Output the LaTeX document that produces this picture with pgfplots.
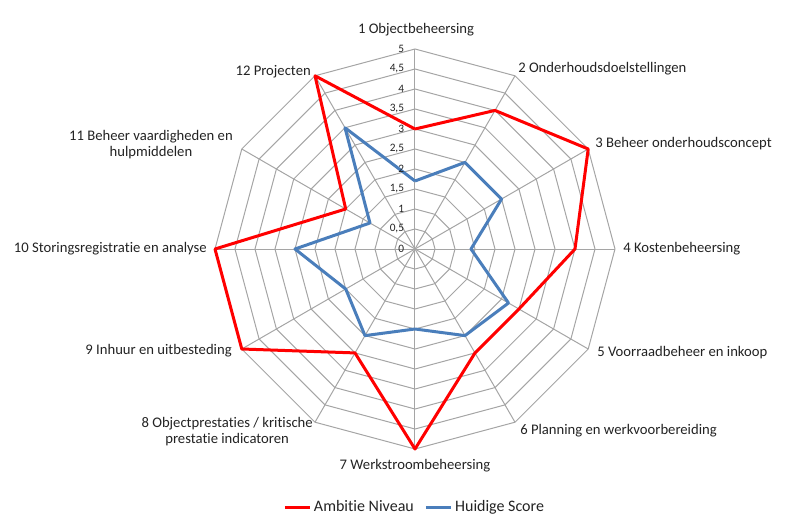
\documentclass[border=0pt]{standalone}
\usepackage{fontspec}
\setmainfont{Carlito}[Ligatures={NoCommon,NoRequired,NoContextual}]
\usepackage{pgfplots}
\pgfplotsset{compat=1.18}
\usepgfplotslibrary{polar}
\definecolor{ambred}{RGB}{255,0,0}
\definecolor{huiblue}{RGB}{74,126,187}
\definecolor{gridgray}{RGB}{165,165,165}
\definecolor{txt}{RGB}{35,35,35}
\begin{document}
\begin{tikzpicture}
\useasboundingbox (-311.25pt,-206.25pt) rectangle (279.75pt,186.75pt);
\begin{polaraxis}[
  hide axis, scale only axis, width=300pt, height=300pt,
  ymin=0, ymax=5, xmin=0, xmax=360,
  at={(0pt,0pt)}, anchor=center, clip=false, no markers,
  legend columns=2,
  legend style={draw=none, fill=none, at={(0.5,-0.145)}, anchor=center,
    font=\fontsize{12}{14}\selectfont, text=txt,
    /tikz/every even column/.append style={column sep=6pt}},
  legend image code/.code={\draw[#1] (0pt,0pt) -- (18.75pt,0pt);},
]
\pgfplotsinvokeforeach{0.5,1,1.5,2,2.5,3,3.5,4,4.5,5}{
  \addplot[gridgray, line width=0.75pt, forget plot] coordinates {(0,#1) (30,#1) (60,#1) (90,#1) (120,#1) (150,#1) (180,#1) (210,#1) (240,#1) (270,#1) (300,#1) (330,#1) (360,#1)};
}
\pgfplotsinvokeforeach{0,30,60,90,120,150,180,210,240,270,300,330}{
  \addplot[gridgray, line width=0.75pt, forget plot] coordinates {(#1,0) (#1,5)};
}
\addplot[ambred, line width=2.25pt, line join=round] coordinates {
  (90,3) (60,4) (30,5) (0,4) (330,3) (300,3) (270,5) (240,3) (210,5) (180,5) (150,2) (120,5) (90,3)};
\addlegendentry{Ambitie Niveau}
\addplot[huiblue, line width=2.25pt, line join=round] coordinates {
  (90,1.7) (60,2.5) (30,2.5) (0,1.4) (330,2.7) (300,2.5) (270,2) (240,2.5) (210,2) (180,3) (150,1.3) (120,3.5) (90,1.7)};
\addlegendentry{Huidige Score}
\end{polaraxis}
\begin{scope}[every node/.style={inner sep=0pt, text=txt, font=\fontsize{8.5}{10}\selectfont, anchor=east}]
\node at (-8pt,0pt) {0};
\node at (-8pt,15pt) {0,5};
\node at (-8pt,30pt) {1};
\node at (-8pt,45pt) {1,5};
\node at (-8pt,60pt) {2};
\node at (-8pt,75pt) {2,5};
\node at (-8pt,90pt) {3};
\node at (-8pt,105pt) {3,5};
\node at (-8pt,120pt) {4};
\node at (-8pt,135pt) {4,5};
\node at (-8pt,150pt) {5};
\end{scope}
\begin{scope}[x=0.75pt, y=-0.75pt, every node/.style={inner sep=0pt, text=txt, font=\fontsize{11}{12}\selectfont, align=center}]
\node[anchor=center] at (1,-219) {1 Objectbeheersing};
\node[anchor=west] at (103,-180) {2 Onderhoudsdoelstellingen};
\node[anchor=west] at (180,-105) {3 Beheer onderhoudsconcept};
\node[anchor=west] at (208,0) {4 Kostenbeheersing};
\node[anchor=west] at (182,104) {5 Voorraadbeheer en inkoop};
\node[anchor=west] at (105,182) {6 Planning en werkvoorbereiding};
\node[anchor=center] at (0,217) {7 Werkstroombeheersing};
\node[anchor=east] at (-102,183) {8 Objectprestaties / kritische\\prestatie indicatoren};
\node[anchor=east] at (-183,102) {9 Inhuur en uitbesteding};
\node[anchor=east] at (-208,0) {10 Storingsregistratie en analyse};
\node[anchor=east] at (-182,-104) {11 Beheer vaardigheden en\\hulpmiddelen};
\node[anchor=east] at (-104,-177) {12 Projecten};
\end{scope}
\end{tikzpicture}
\end{document}
